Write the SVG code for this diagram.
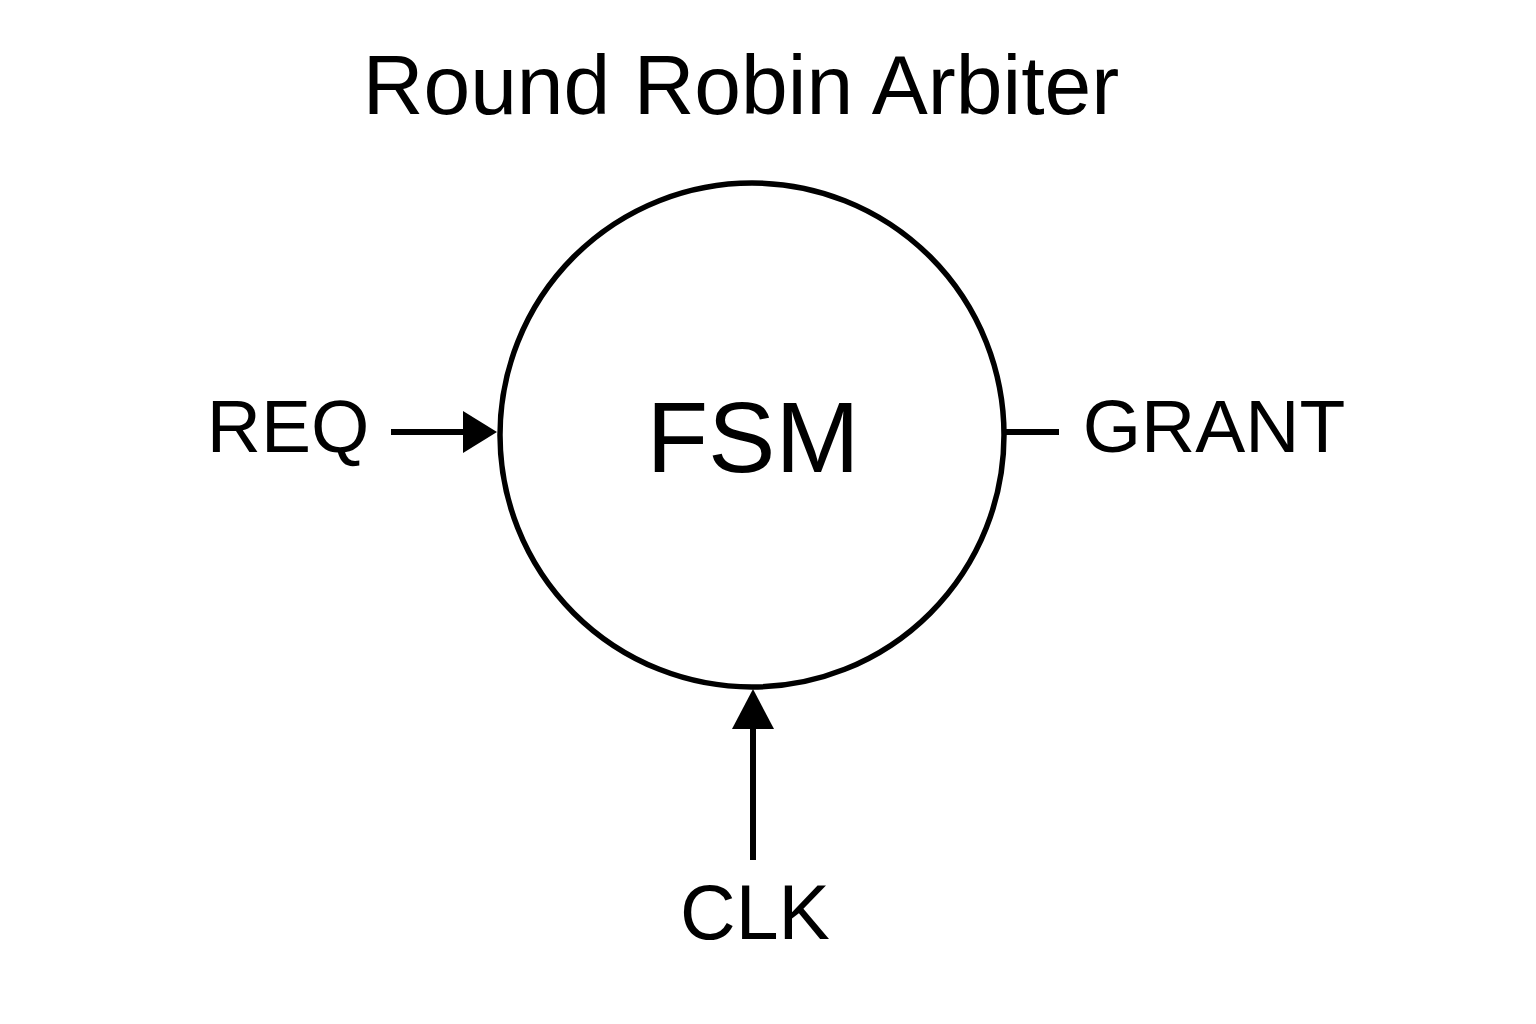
<svg xmlns="http://www.w3.org/2000/svg" width="1536" height="1024" viewBox="0 0 1536 1024">
<style>
text{font-family:"Liberation Sans",Arial,sans-serif;fill:#000}
.c{stroke:#000;stroke-width:6;fill:none}
</style>
<rect width="1536" height="1024" fill="#fff"/>
<text x="741" y="114" font-size="84" text-anchor="middle">Round Robin Arbiter</text>
<g id="fsm">
<circle cx="752" cy="435" r="252" fill="#fff" stroke="#000" stroke-width="5.5"/>
<text x="753" y="472" font-size="101" text-anchor="middle">FSM</text>
</g>
<g id="req"><text x="288" y="452" font-size="75" text-anchor="middle">REQ</text></g>
<g id="grant"><text x="1214" y="452" font-size="75" text-anchor="middle">GRANT</text></g>
<g id="clk"><text x="755" y="939" font-size="77" text-anchor="middle">CLK</text></g>
<g id="connectors">
<line class="c" x1="391" y1="432" x2="466" y2="432"/>
<polygon points="463,411 497,432 463,453" fill="#000"/>
<line class="c" x1="1005" y1="432" x2="1059" y2="432"/>
<line class="c" x1="753" y1="860" x2="753" y2="726"/>
<polygon points="732,729 753,689 774,729" fill="#000"/>
</g>
</svg>
